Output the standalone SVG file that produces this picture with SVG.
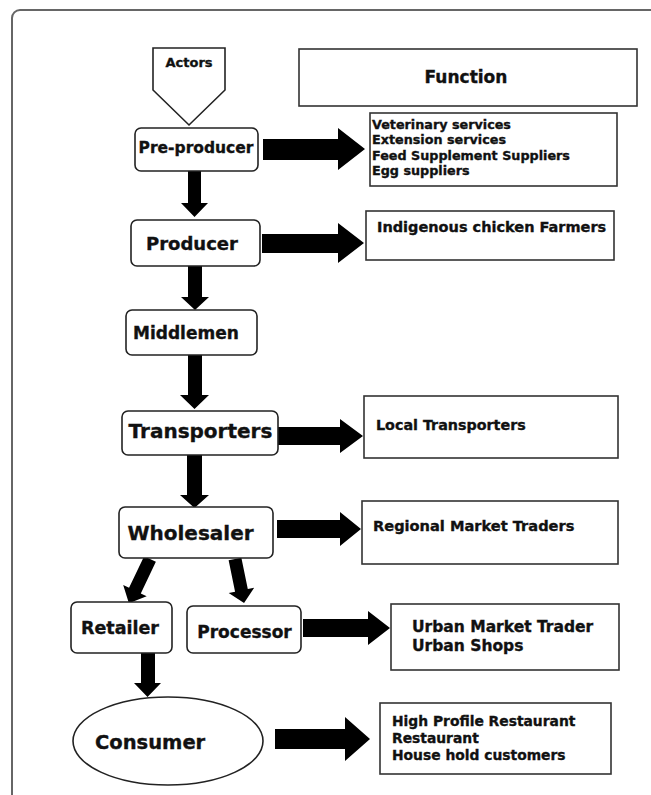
<svg xmlns="http://www.w3.org/2000/svg" width="651" height="795" viewBox="0 0 651 795">
<style>
  .frame{fill:none;stroke:#666;stroke-width:2}
  .node{fill:#fff;stroke:#222;stroke-width:1.6}
  .fbox{fill:#fff;stroke:#333;stroke-width:1.6}
  .arr{fill:#000;stroke:none}
  text{font-family:"DejaVu Sans","Liberation Sans",Arial,sans-serif;font-weight:bold;fill:#111;stroke:#111;stroke-width:0.35}
  .c{text-anchor:middle}
</style>
<rect width="651" height="795" fill="#fff"/>
<rect class="frame" x="12" y="10" width="700" height="850" rx="8"/>

<g id="connectors">
  <path class="arr" d="M263,139 H338 V128 L365,149 L338,170 V160 H263 Z"/>
  <path class="arr" d="M262,234 H338 V223 L364,243 L338,263 V253 H262 Z"/>
  <path class="arr" d="M278,427 H340 V419 L363,436 L340,453 V445 H278 Z"/>
  <path class="arr" d="M277,520 H340 V512 L361,529 L340,546 V538 H277 Z"/>
  <path class="arr" d="M303,619 H368 V611 L390,628 L368,645 V637 H303 Z"/>
  <path class="arr" d="M275,729 H345 V717 L370,739 L345,761 V749 H275 Z"/>
  <path class="arr" d="M188,171 H201 V203 H208 L194.5,217 L181,203 H188 Z"/>
  <path class="arr" d="M188,266 H202 V297 H209 L195,310 L181,297 H188 Z"/>
  <path class="arr" d="M188,355 H202 V395 H209 L194.5,409 L180,395 H188 Z"/>
  <path class="arr" d="M187,455 H202 V495 H209 L194.5,508 L180,495 H187 Z"/>
  <path class="arr" d="M141,653 H155 V683 H161 L147.5,697 L134,683 H141 Z"/>
  <path class="arr" transform="translate(150,559) rotate(25.5)" d="M-6.5,0 H6.5 V35 H13 L0,49 L-13,35 H-6.5 Z"/>
  <path class="arr" transform="translate(235,559) rotate(-11.6)" d="M-6.5,0 H6.5 V32 H13 L0,45 L-13,32 H-6.5 Z"/>
</g>

<g id="actors">
  <polygon class="node" points="153,48 225,48 225,90 189,125 153,90"/>
  <text class="c" x="189" y="66.7" font-size="13">Actors</text>
</g>
<g id="function">
  <rect class="fbox" x="299" y="49" width="338" height="57"/>
  <text class="c" x="466" y="83" font-size="17">Function</text>
</g>
<g id="pre-producer">
  <rect class="node" x="135" y="128" width="123" height="43" rx="6"/>
  <text class="c" x="196" y="152.6" font-size="15.5">Pre-producer</text>
</g>
<g id="f-preproducer">
  <rect class="fbox" x="370" y="113" width="247" height="73"/>
  <text x="372" y="128.5" font-size="12.75">Veterinary services</text>
  <text x="372" y="144" font-size="12.75">Extension services</text>
  <text x="372" y="159.5" font-size="12.75">Feed Supplement Suppliers</text>
  <text x="372" y="175" font-size="12.75">Egg suppliers</text>
</g>
<g id="producer">
  <rect class="node" x="131" y="220" width="129" height="46" rx="6"/>
  <text class="c" x="192" y="249.5" font-size="18">Producer</text>
</g>
<g id="f-producer">
  <rect class="fbox" x="366" y="211" width="248" height="49"/>
  <text x="377" y="232.2" font-size="14.5">Indigenous chicken Farmers</text>
</g>
<g id="middlemen">
  <rect class="node" x="126" y="310" width="131" height="45" rx="6"/>
  <text x="133" y="339" font-size="17">Middlemen</text>
</g>
<g id="transporters">
  <rect class="node" x="122" y="411" width="156" height="44" rx="6"/>
  <text class="c" x="200.5" y="438" font-size="20">Transporters</text>
</g>
<g id="f-transporters">
  <rect class="fbox" x="364" y="396" width="254" height="62"/>
  <text x="376" y="430" font-size="14.3">Local Transporters</text>
</g>
<g id="wholesaler">
  <rect class="node" x="119" y="507" width="154" height="51" rx="6"/>
  <text class="c" x="190.5" y="540" font-size="20">Wholesaler</text>
</g>
<g id="f-wholesaler">
  <rect class="fbox" x="362" y="501" width="256" height="63"/>
  <text x="373" y="531.3" font-size="14.6">Regional Market Traders</text>
</g>
<g id="retailer">
  <rect class="node" x="71" y="602" width="101" height="51" rx="6"/>
  <text class="c" x="120" y="634.3" font-size="17.5">Retailer</text>
</g>
<g id="processor">
  <rect class="node" x="187" y="606" width="114" height="47" rx="6"/>
  <text class="c" x="244.5" y="638" font-size="17">Processor</text>
</g>
<g id="f-processor">
  <rect class="fbox" x="391" y="604" width="228" height="66"/>
  <text x="412" y="631.6" font-size="15.5">Urban Market Trader</text>
  <text x="412" y="650.6" font-size="15.5">Urban Shops</text>
</g>
<g id="consumer">
  <ellipse class="node" cx="168" cy="741" rx="95" ry="44"/>
  <text x="95" y="749" font-size="19.5">Consumer</text>
</g>
<g id="f-consumer">
  <rect class="fbox" x="380" y="703" width="231" height="71"/>
  <text x="392" y="726" font-size="13.85">High Profile Restaurant</text>
  <text x="392" y="743" font-size="13.85">Restaurant</text>
  <text x="392" y="760" font-size="13.85">House hold customers</text>
</g>
</svg>
